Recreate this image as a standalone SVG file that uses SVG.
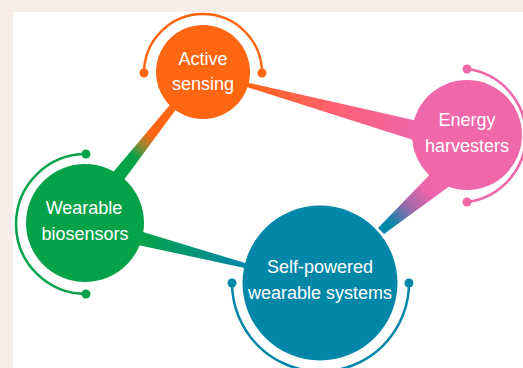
<svg xmlns="http://www.w3.org/2000/svg" width="523" height="368" viewBox="0 0 523 368">
<defs>
<linearGradient id="g1" gradientUnits="userSpaceOnUse" x1="250" y1="85" x2="413" y2="130">
<stop offset="0" stop-color="#ff6418"/><stop offset="0.45" stop-color="#ff5f68"/><stop offset="1" stop-color="#f066aa"/>
</linearGradient>
<linearGradient id="g2" gradientUnits="userSpaceOnUse" x1="168" y1="112" x2="126" y2="168">
<stop offset="0.4" stop-color="#fe6614"/><stop offset="0.62" stop-color="#8c8a36"/><stop offset="0.8" stop-color="#05a24a"/>
</linearGradient>
<linearGradient id="g3" gradientUnits="userSpaceOnUse" x1="143" y1="240" x2="245" y2="266">
<stop offset="0" stop-color="#05a24a"/><stop offset="1" stop-color="#0287a9"/>
</linearGradient>
<linearGradient id="g4" gradientUnits="userSpaceOnUse" x1="430" y1="178" x2="380" y2="230">
<stop offset="0.15" stop-color="#f066aa"/><stop offset="0.5" stop-color="#9a6aa8"/><stop offset="0.85" stop-color="#0287a9"/>
</linearGradient>
</defs>
<style>
.arc{fill:none;stroke-width:2.5}
.t{font-family:"Liberation Sans",Arial,sans-serif;font-size:18px;fill:#ffffff;text-anchor:middle}
</style>
<rect x="0" y="0" width="523" height="368" fill="#f8ede8"/>
<rect x="13" y="12" width="510" height="356" fill="#ffffff"/>
<g id="connectors">
<polygon points="230,78.5 230,81.6 440,148.6 440,126" fill="url(#g1)"/>
<polygon points="180,104 174,100 104,183 115,192" fill="url(#g2)"/>
<polygon points="110,222 110,239 270,273.4 270,270.6" fill="url(#g3)"/>
<polygon points="440,164 458,180 384,234 378,228" fill="url(#g4)"/>
</g>
<g id="active-sensing">
<path class="arc" stroke="#fe6612" d="M144 73 A59 59 0 0 1 262 73"/>
<circle cx="144" cy="73" r="4.5" fill="#fe6612"/>
<circle cx="262" cy="73" r="4.5" fill="#fe6612"/>
<circle cx="203" cy="72" r="47" fill="#fe6612"/>
<text class="t" x="203" y="65">Active</text>
<text class="t" x="203" y="90">sensing</text>
</g>
<g id="energy-harvesters">
<path class="arc" stroke="#f067aa" d="M467 69 A67 67 0 0 1 467 202"/>
<circle cx="467" cy="69" r="4.5" fill="#f067aa"/>
<circle cx="467" cy="202" r="4.5" fill="#f067aa"/>
<circle cx="467" cy="135" r="55" fill="#f067aa"/>
<text class="t" x="467" y="126">Energy</text>
<text class="t" x="467" y="152">harvesters</text>
</g>
<g id="wearable-biosensors">
<path class="arc" stroke="#05a24a" d="M86 154 A70 70 0 0 0 86 294"/>
<circle cx="86" cy="154" r="4.5" fill="#05a24a"/>
<circle cx="86" cy="294" r="4.5" fill="#05a24a"/>
<circle cx="85" cy="223" r="59" fill="#05a24a"/>
<text class="t" x="84" y="214">Wearable</text>
<text class="t" x="85" y="240">biosensors</text>
</g>
<g id="self-powered">
<path class="arc" stroke="#0287a9" d="M232 283 A88 88 0 0 0 409 283"/>
<circle cx="232" cy="283" r="4.5" fill="#0287a9"/>
<circle cx="409" cy="283" r="4.5" fill="#0287a9"/>
<circle cx="320" cy="283" r="77.5" fill="#0287a9"/>
<text class="t" x="320" y="273">Self-powered</text>
<text class="t" x="320" y="299">wearable systems</text>
</g>
</svg>
